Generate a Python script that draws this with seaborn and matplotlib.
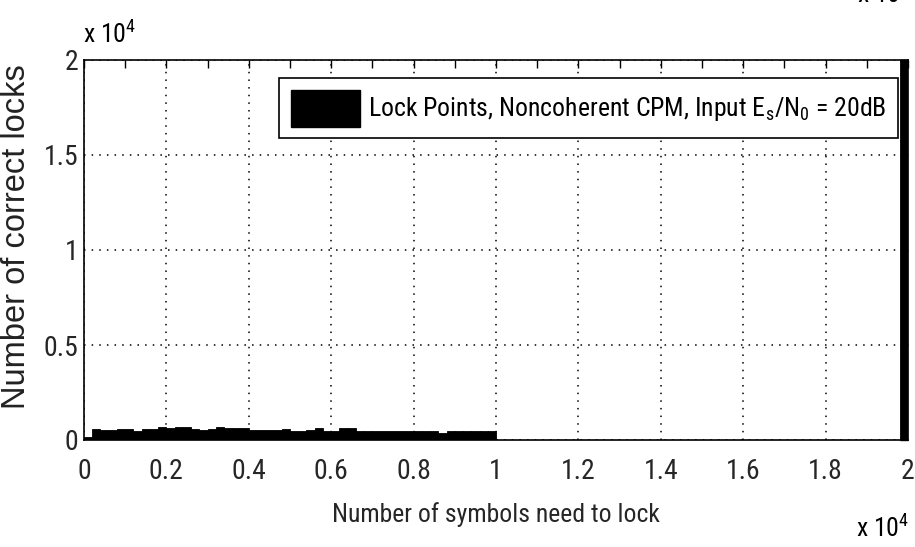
import numpy as np
import pandas as pd
import matplotlib
matplotlib.use("Agg")
import matplotlib.pyplot as plt
from matplotlib import font_manager
from matplotlib.patches import Rectangle
from matplotlib.ticker import FixedLocator, FixedFormatter, MultipleLocator
import seaborn as sns

# ---- data -------------------------------------------------------------
bin_width = 200
# correct locks per 200-symbol bin, starting at 0 symbols
lock_counts = [160, 560, 520, 510, 560, 560, 475, 560, 600, 685,
               615, 685, 685, 560, 510, 600, 700, 615, 615, 615,
               525, 525, 525, 525, 595, 475, 475, 520, 650, 475,
               500, 650, 620, 475, 480, 485, 475, 480, 490, 485,
               480, 490, 485, 370, 490, 485, 490, 480, 490, 485]
# runs that never locked, collected in the last bin
failed_center = 19900
failed_count = 80000

x_ticks = [0, 2000, 4000, 6000, 8000, 10000, 12000, 14000, 16000, 18000, 20000]
x_tick_labels = ["0", "0.2", "0.4", "0.6", "0.8", "1", "1.2", "1.4", "1.6", "1.8", "2"]
y_ticks = [0, 5000, 10000, 15000, 20000]
y_tick_labels = ["0", "0.5", "1", "1.5", "2"]

legend_label = r"Lock Points, Noncoherent CPM, Input E$_\mathregular{s}$/N$_\mathregular{0}$ = 20dB"

# ---- fonts ------------------------------------------------------------
sns.set_theme(style="white")
names = {f.name for f in font_manager.fontManager.ttflist}
narrow = None
for cand in ["Liberation Sans Narrow", "Roboto Condensed", "Open Sans Condensed",
             "DejaVu Sans Condensed", "Noto Sans Condensed"]:
    if cand in names:
        narrow = cand
        break
if narrow is None:
    for f in font_manager.fontManager.ttflist:
        if f.stretch in ("condensed", "semi-condensed") and f.style == "normal":
            narrow = f.name
            break

base = narrow if narrow else "Liberation Sans"
fs = 18.5 if narrow else 16
fs_tick = 20 if narrow else 17
plt.rcParams["font.family"] = [base, "DejaVu Sans"]
plt.rcParams["mathtext.fontset"] = "custom"
plt.rcParams["mathtext.rm"] = base
plt.rcParams["text.color"] = "black"

# ---- figure -----------------------------------------------------------
fig = plt.figure(figsize=(9.15, 5.47), dpi=100)
ax = fig.add_axes([84 / 915, 1 - 440 / 547, (908 - 84) / 915, (440 - 60) / 547])

centers = [bin_width * i + bin_width / 2 for i in range(len(lock_counts))] + [failed_center]
weights = lock_counts + [failed_count]
hist_df = pd.DataFrame({"symbols": centers, "locks": weights})

sns.histplot(data=hist_df, x="symbols", weights="locks",
             binwidth=bin_width, binrange=(0, 20000), ax=ax,
             color="black", edgecolor="black", linewidth=0.6, alpha=1.0)

ax.set_xlim(0, 20000)
ax.set_ylim(0, 20000)

ax.xaxis.set_major_locator(FixedLocator(x_ticks))
ax.xaxis.set_major_formatter(FixedFormatter(x_tick_labels))
ax.xaxis.set_minor_locator(MultipleLocator(1000))
ax.yaxis.set_major_locator(FixedLocator(y_ticks))
ax.yaxis.set_major_formatter(FixedFormatter(y_tick_labels))

ax.grid(True, which="major", color="black", linestyle=(0, (1, 4)), linewidth=1.1)
ax.set_axisbelow(False)
ax.tick_params(which="both", direction="in", top=True, right=True,
               length=6, width=1, color="black", labelsize=fs_tick)
ax.tick_params(axis="x", which="major", pad=13)
ax.tick_params(axis="y", which="major", pad=4)
for s in ax.spines.values():
    s.set_visible(True)
    s.set_color("black")
    s.set_linewidth(1.2)

ax.set_xlabel("Number of symbols need to lock", fontsize=fs, labelpad=12)
ax.set_ylabel("Number of correct locks", fontsize=23.5,
              family=["Liberation Sans", "DejaVu Sans"], color="#222222")
ax.yaxis.set_label_coords((32 - 84) / 824, (440 - 237) / 380)

# scale factors shown as in the original axes
fig.text(83 / 915, 1 - 43 / 547, r"x 10$^\mathregular{4}$", fontsize=fs,
         ha="left", va="baseline")
fig.text(856 / 915, 1 - 537 / 547, r"x 10$^\mathregular{4}$", fontsize=fs,
         ha="left", va="baseline")
fig.text(857 / 915, 1 - 3 / 547, r"x 10$^\mathregular{4}$", fontsize=fs,
         ha="left", va="baseline")

handle = Rectangle((0, 0), 1, 1, facecolor="black", edgecolor="black")
leg = ax.legend([handle], [legend_label], loc="upper right",
                bbox_to_anchor=(898 / 915, 1 - 78 / 547),
                bbox_transform=fig.transFigure, borderaxespad=0,
                fontsize=fs, frameon=True, fancybox=False, shadow=False,
                handlelength=2.7, handleheight=1.85, handletextpad=0.3,
                borderpad=0.45)
leg.get_frame().set_edgecolor("black")
leg.get_frame().set_linewidth(1.2)
leg.get_frame().set_alpha(1)

fig.savefig("out.png", dpi=100, facecolor="white")
